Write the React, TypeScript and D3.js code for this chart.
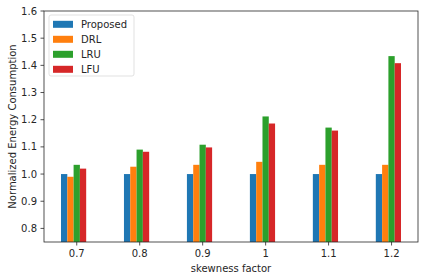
import React from 'react';
import * as d3 from 'd3';

const W = 424;
const H = 280;

const skewness = ['0.7', '0.8', '0.9', '1', '1.1', '1.2'];
const seriesNames = ['Proposed', 'DRL', 'LRU', 'LFU'];
const colors = ['#1f77b4', '#ff7f0e', '#2ca02c', '#d62728'];

const proposed = [1.0, 1.0, 1.0, 1.0, 1.0, 1.0];
const drl = [0.99, 1.027, 1.034, 1.045, 1.034, 1.034];
const lru = [1.034, 1.09, 1.108, 1.212, 1.171, 1.434];
const lfu = [1.02, 1.082, 1.098, 1.186, 1.16, 1.408];

const yTicks = [0.8, 0.9, 1.0, 1.1, 1.2, 1.3, 1.4, 1.5, 1.6];

const BAR_W = 0.1;
// bar offsets relative to the tick, in x units
const offsets = [-2, -1, 0, 1];

const margin = { left: 44, right: 6, top: 11, bottom: 38 };

export default function App() {
  const series = [proposed, drl, lru, lfu];
  const x = d3
    .scaleLinear()
    .domain([-0.52, 5.42])
    .range([margin.left, W - margin.right]);
  const y = d3
    .scaleLinear()
    .domain([0.75, 1.6])
    .range([H - margin.bottom, margin.top]);

  const font = 'DejaVu Sans, sans-serif';
  const textCol = '#262626';

  return (
    <svg
      width={W}
      height={H}
      style={{ position: 'absolute', left: 0, top: 0, background: '#fff' }}
      fontFamily={font}
    >
      <g>
        {series.map((vals, si) =>
          vals.map((v, i) => {
            const cx = i + offsets[si] * BAR_W;
            const x0 = x(cx - BAR_W / 2);
            const x1 = x(cx + BAR_W / 2);
            return (
              <rect
                key={`${si}-${i}`}
                x={x0}
                y={y(v)}
                width={x1 - x0}
                height={y(0.75) - y(v)}
                fill={colors[si]}
              />
            );
          })
        )}
      </g>

      {/* y axis ticks */}
      <g>
        {yTicks.map((t) => (
          <g key={t}>
            <line x1={margin.left - 3.5} x2={margin.left} y1={y(t)} y2={y(t)} stroke={textCol} strokeWidth={0.8} />
            <text x={margin.left - 7} y={y(t)} dy="0.35em" textAnchor="end" fontSize={10} fill={textCol}>
              {t.toFixed(1)}
            </text>
          </g>
        ))}
      </g>

      {/* x axis ticks */}
      <g>
        {skewness.map((s, i) => (
          <g key={s}>
            <line x1={x(i)} x2={x(i)} y1={H - margin.bottom} y2={H - margin.bottom + 3.5} stroke={textCol} strokeWidth={0.8} />
            <text x={x(i)} y={H - margin.bottom + 15} textAnchor="middle" fontSize={10} fill={textCol}>
              {s}
            </text>
          </g>
        ))}
      </g>

      {/* frame */}
      <rect
        x={margin.left}
        y={margin.top}
        width={W - margin.left - margin.right}
        height={H - margin.top - margin.bottom}
        fill="none"
        stroke={textCol}
        strokeWidth={0.8}
      />

      <text x={(margin.left + W - margin.right) / 2} y={272} textAnchor="middle" fontSize={10} fill={textCol}>
        skewness factor
      </text>
      <text
        transform={`translate(16,${(margin.top + H - margin.bottom) / 2}) rotate(-90)`}
        textAnchor="middle"
        fontSize={10}
        fill={textCol}
      >
        Normalized Energy Consumption
      </text>

      {/* legend */}
      <g>
        <rect x={49} y={15} width={85} height={61} rx={2} fill="#fff" fillOpacity={0.8} stroke="#d9d9d9" strokeWidth={0.8} />
        {seriesNames.map((n, i) => (
          <g key={n} transform={`translate(0,${24.3 + i * 15})`}>
            <rect x={53} y={-3.5} width={20} height={7} fill={colors[i]} />
            <text x={81} y={0} dy="0.35em" fontSize={10} fill={textCol}>
              {n}
            </text>
          </g>
        ))}
      </g>
    </svg>
  );
}
